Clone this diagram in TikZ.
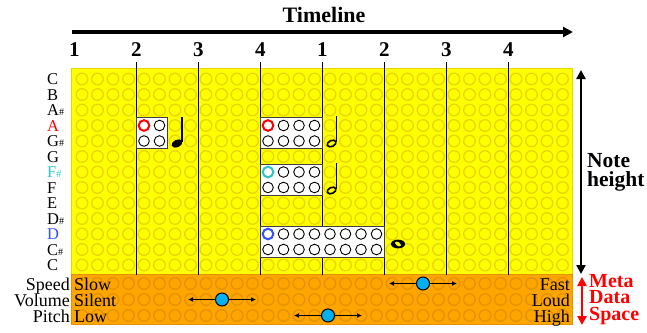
\documentclass[tikz,border=0pt]{standalone}
\usepackage{fontspec}
\setmainfont{Liberation Serif}
\usetikzlibrary{arrows.meta}
\definecolor{bgy}{RGB}{255,255,0}
\definecolor{cy}{RGB}{232,214,0}
\definecolor{bgo}{RGB}{255,165,0}
\definecolor{co}{RGB}{230,146,0}
\definecolor{knobc}{RGB}{0,176,240}
\definecolor{fsharp}{RGB}{40,200,200}
\definecolor{dblue}{RGB}{50,80,255}
\newcommand{\shp}{{\fontsize{10}{10}\selectfont\#}}
\begin{document}
\begin{tikzpicture}[x=1pt,y=-1pt,
  bgcirc/.style={line width=1.3pt},
  beatline/.style={line width=1.2pt,black},
  notebox/.style={draw=black!75,line width=1pt,fill=white},
  hole/.style={draw=black,line width=0.9pt},
  firsthole/.style={line width=2pt},
  pitchlbl/.style={anchor=base west,inner sep=0pt,font=\fontsize{16.5}{16.5}\selectfont},
  metalbl/.style={inner sep=0pt,font=\fontsize{18}{18}\selectfont},
  beatnum/.style={inner sep=0pt,font=\fontsize{21}{21}\selectfont\bfseries},
  knob/.style={circle,draw=black,line width=1pt,fill=knobc,minimum size=13pt,inner sep=0pt},
  sliderarrow/.style={line width=1.3pt,-{Latex[length=5pt,width=5pt]}},
  bigarrow/.style={line width=2.6pt,{Triangle[length=9pt,width=9pt]}-{Triangle[length=9pt,width=9pt]}}
]
\useasboundingbox (0,0) rectangle (647,332);
% backgrounds
\fill[bgy] (71,68) rectangle (573,274.5);
\draw[cy,line width=1pt] (71.5,68.5) rectangle (572.5,274.5);
\fill[bgo] (71,274.5) rectangle (573,325);
\draw[co,line width=1pt] (71.5,274.5) rectangle (572.5,324.5);
\foreach \i in {0,...,31}{
  \foreach \j in {0,...,12}{
    \draw[cy,bgcirc] ({82+15.5*\i},{79+15.5*\j}) circle (5.8pt);
  }
  \foreach \yy in {283.5,299.5,315.5}{
    \draw[co,bgcirc] ({82+15.5*\i},\yy) circle (5.8pt);
  }
}
% timeline
\node[inner sep=0pt,font=\fontsize{22}{22}\selectfont\bfseries] (tl) at (324,15) {Timeline};
\coordinate (tla) at (72,32);
\coordinate (tlb) at (573,32);
\draw[line width=3.5pt,-{Triangle[length=10pt,width=10pt]}] (tla) -- (tlb);
% beat numbers and lines
\foreach \k/\lab in {0/1,1/2,2/3,3/4,4/1,5/2,6/3,7/4}{
  \node[beatnum] (n\k) at ({74.25+62*\k},50) {\lab};
}
\foreach \k in {1,...,7}{
  \coordinate (bt\k) at ({74.25+62*\k},62);
  \coordinate (bb\k) at ({74.25+62*\k},274.5);
  \draw[beatline] (bt\k) -- (bb\k);
}
% pitch labels
\foreach \j/\lab in {0/C,1/B,2/A\shp,4/G\shp,5/G,7/F,8/E,9/D\shp,11/C\shp,12/C}{
  \node[pitchlbl] (p\j) at (47,{79+15.5*\j+5.5}) {\lab};
}
\node[pitchlbl,text=red] (p3) at (47,{79+15.5*3+5.5}) {A};
\node[pitchlbl,text=fsharp] (p6) at (47,{79+15.5*6+5.5}) {F\shp};
\node[pitchlbl,text=dblue] (p10) at (47,{79+15.5*10+5.5}) {D};
% note boxes
% box 1: cols 4-5, rows 3-4
\draw[notebox] (136.25,117.75) rectangle (167.25,148.75);
\foreach \i in {4,5}{\foreach \j in {3,4}{
  \draw[hole] ({82+15.5*\i},{79+15.5*\j}) circle (5.3pt);}}
\draw[hole,fill=white,draw=red,firsthole] ({82+15.5*4},{79+15.5*3}) circle (5.3pt);
% box 2: cols 12-15 rows 3-4
\draw[notebox] (260.25,117.75) rectangle (322.25,148.75);
\foreach \i in {12,...,15}{\foreach \j in {3,4}{
  \draw[hole] ({82+15.5*\i},{79+15.5*\j}) circle (5.3pt);}}
\draw[hole,fill=white,draw=red,firsthole] ({82+15.5*12},{79+15.5*3}) circle (5.3pt);
% box 3: cols 12-15 rows 6-7
\draw[notebox] (260.25,164.25) rectangle (322.25,195.25);
\foreach \i in {12,...,15}{\foreach \j in {6,7}{
  \draw[hole] ({82+15.5*\i},{79+15.5*\j}) circle (5.3pt);}}
\draw[hole,fill=white,draw=fsharp,firsthole] ({82+15.5*12},{79+15.5*6}) circle (5.3pt);
% box 4: cols 12-19 rows 10-11
\draw[notebox] (260.25,226.25) rectangle (384.25,257.25);
\foreach \i in {12,...,19}{\foreach \j in {10,11}{
  \draw[hole] ({82+15.5*\i},{79+15.5*\j}) circle (5.3pt);}}
\draw[hole,fill=white,draw=dblue,firsthole] ({82+15.5*12},{79+15.5*10}) circle (5.3pt);
% quarter note
\fill[shift={(177,143.5)},rotate=25] (0,0) ellipse [x radius=5.6pt,y radius=3.8pt];
\draw[line width=1.3pt] (182,142) -- (182,117);
% half notes
\draw[line width=1.6pt,shift={(331.6,143.5)},rotate=25] (0,0) ellipse [x radius=4.6pt,y radius=3pt];
\draw[line width=1.3pt] (336.6,142) -- (336.6,116);
\draw[line width=1.6pt,shift={(331.6,190.5)},rotate=25] (0,0) ellipse [x radius=4.6pt,y radius=3pt];
\draw[line width=1.3pt] (336.6,189) -- (336.6,163);
% whole note
\fill[even odd rule,shift={(398,244)}] (0,0) ellipse [x radius=7pt,y radius=4.4pt]
  [rotate=-35] (0,0) ellipse [x radius=3.4pt,y radius=2pt];
% meta labels
\node[metalbl,anchor=base east] (ms) at (70,290) {Speed};
\node[metalbl,anchor=base east] (mv) at (70,306) {Volume};
\node[metalbl,anchor=base east] (mp) at (70,322.5) {Pitch};
\node[metalbl,anchor=base west] (ls) at (74,290) {Slow};
\node[metalbl,anchor=base west] (lv) at (74,306) {Silent};
\node[metalbl,anchor=base west] (lp) at (74,322.5) {Low};
\node[metalbl,anchor=base east] (hs) at (570,290) {Fast};
\node[metalbl,anchor=base east] (hv) at (570,306) {Loud};
\node[metalbl,anchor=base east] (hp) at (570,322.5) {High};
% sliders
\coordinate (s1l) at (389,283.5); \coordinate (s1r) at (457,283.5);
\coordinate (s2l) at (188,299.5); \coordinate (s2r) at (256,299.5);
\coordinate (s3l) at (294,315.5); \coordinate (s3r) at (362,315.5);
\draw[sliderarrow] (423,283.5) -- (s1l);
\draw[sliderarrow] (423,283.5) -- (s1r);
\draw[sliderarrow] (222,299.5) -- (s2l);
\draw[sliderarrow] (222,299.5) -- (s2r);
\draw[sliderarrow] (328,315.5) -- (s3l);
\draw[sliderarrow] (328,315.5) -- (s3r);
\node[knob] (k1) at (423,283.5) {};
\node[knob] (k2) at (222,299.5) {};
\node[knob] (k3) at (328,315.5) {};
% right side arrows
\coordinate (nha) at (581,70);
\coordinate (nhb) at (581,274);
\draw[bigarrow] (nha) -- (nhb);
\coordinate (mda) at (582,277);
\coordinate (mdb) at (582,325);
\draw[bigarrow,red] (mda) -- (mdb);
\node[anchor=west,align=left,inner sep=0pt,font=\fontsize{21.5}{19}\selectfont\bfseries] (nh) at (587,172) {Note\\height};
\node[anchor=west,align=left,inner sep=0pt,text=red,font=\fontsize{20}{16.5}\selectfont\bfseries] (md) at (589,299.5) {Meta\\Data\\Space};
\end{tikzpicture}
\end{document}
